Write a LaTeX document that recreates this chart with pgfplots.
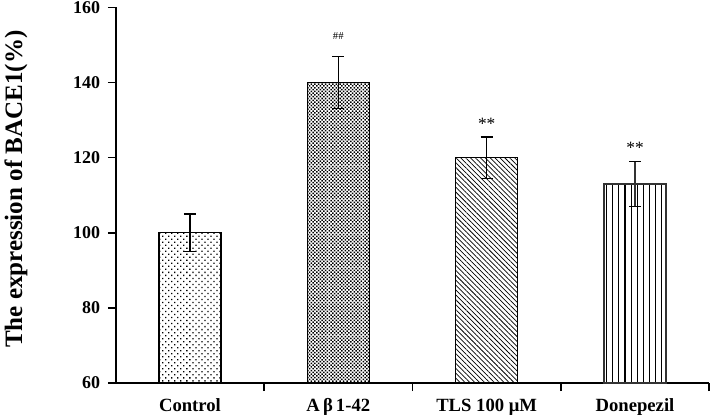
\documentclass[border=0pt]{standalone}
\usepackage{pgfplots}
\pgfplotsset{compat=1.18}
\usepackage{fontspec}
\setmainfont{Liberation Serif}
\usetikzlibrary{patterns.meta}
\begin{document}
\begin{tikzpicture}
\begin{axis}[
  scale only axis,
  width=445.5pt, height=282pt,
  xmin=-0.5, xmax=3.5,
  ymin=60, ymax=160,
  axis lines*=left,
  axis line style={line width=1.2pt, -},
  ytick={60,80,...,160},
  xtick={0,1,2,3},
  xticklabels={Control, A\,β\,1-42, TLS 100 μM, Donepezil},
  minor xtick={0.5,1.5,2.5,3.5},
  major x tick style={draw=none},
  minor tick length=6pt,
  major tick length=6pt,
  tick align=outside,
  tick style={line width=1.2pt, black},
  /pgf/number format/assume math mode=true,
  ticklabel style={font=\fontsize{13.5}{14}\selectfont\bfseries, inner sep=1pt},
  yticklabel style={xshift=-4.5pt},
  xticklabel style={font=\fontsize{14}{15}\selectfont\bfseries, yshift=-4.5pt},
  ylabel={The expression of BACE1(\%)},
  ylabel style={at={(axis description cs:-0.141,0.516)}, anchor=south,
                font=\fontsize{18.8}{19}\selectfont\bfseries},
  ybar, bar width=46.5pt,
  error bars/y dir=both, error bars/y explicit,
  error bars/error mark options={rotate=90, mark size=4.5pt, line width=1pt},
  error bars/error bar style={line width=1.2pt},
]
\addplot[bar shift=0pt, draw=black, line width=1pt, pattern={Dots[distance=3.2pt, angle=45, radius=0.68pt]}, pattern color=black]
  coordinates {(0,100) +- (0,5)};
\addplot[bar shift=0pt, draw=black, line width=1pt, fill=white, postaction={pattern={Dots[distance=1.9pt, angle=45, radius=0.8pt]}, pattern color=black}]
  coordinates {(1,140) +- (0,7)};
\addplot[bar shift=0pt, draw=black, line width=1pt, pattern={Lines[angle=-45, distance=2.6pt, line width=0.55pt]}, pattern color=black]
  coordinates {(2,120) +- (0,5.5)};
\addplot[bar shift=0pt, draw=black!80, line width=1pt, pattern={Lines[angle=90, distance=4.6pt, line width=0.8pt]}, pattern color=black]
  coordinates {(3,113) +- (0,6)};
\node[font=\fontsize{8}{9}\selectfont] at (axis cs:1,152.5) {\#\#};
\node[font=\fontsize{13}{14}\selectfont] at (axis cs:2,129) {**};
\node[font=\fontsize{13}{14}\selectfont] at (axis cs:3,122.5) {**};
\end{axis}
\end{tikzpicture}
\end{document}
